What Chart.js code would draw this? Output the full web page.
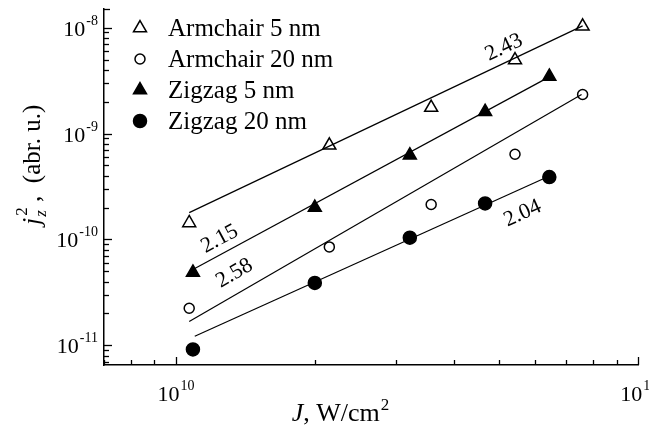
<!DOCTYPE html>
<html>
<head>
<meta charset="utf-8">
<script src="https://cdn.jsdelivr.net/npm/chart.js@4.4.1/dist/chart.umd.min.js"></script>
<style>
  html, body { margin: 0; padding: 0; background: #fff; }
  #wrap { width: 649px; height: 429px; }
</style>
</head>
<body>
<div id="wrap"><canvas id="myChart"></canvas></div>
<script>
// data (J in W/cm^2, j_z^2 in arbitrary units)
const seriesNames = ['Armchair 5 nm', 'Armchair 20 nm', 'Zigzag 5 nm', 'Zigzag 20 nm'];
const armchairJ = [1.07e10, 2.15e10, 3.57e10, 5.42e10, 7.59e10];
const zigzagJ = [1.09e10, 2.0e10, 3.21e10, 4.67e10, 6.43e10];
const armchair5 = [1.43e-10, 7.74e-10, 1.76e-9, 4.94e-9, 1.03e-8];
const armchair20 = [2.24e-11, 8.5e-11, 2.14e-10, 6.38e-10, 2.34e-9];
const zigzag5 = [4.88e-11, 2.0e-10, 6.25e-10, 1.61e-9, 3.46e-9];
const zigzag20 = [9.14e-12, 3.88e-11, 1.04e-10, 2.19e-10, 3.88e-10];

// fitted lines: start and end (J, j_z^2)
const fitJ = [[1.07e10, 7.59e10], [1.07e10, 7.55e10], [1.09e10, 6.43e10], [1.10e10, 6.4e10]];
const fitY = [[1.79e-10, 1.04e-8], [1.68e-11, 2.34e-9], [5.2e-11, 3.43e-9], [1.22e-11, 3.93e-10]];

// slope labels, the fit line each one follows, and where they sit (data coords)
const slopeLabels = ['2.43', '2.58', '2.15', '2.04'];
const slopeJ = [5.13e10, 1.34e10, 1.245e10, 5.63e10];
const slopeY = [6.5e-9, 4.78e-11, 1.01e-10, 1.76e-10];

const xTicks = [1e10, 1e11];
const xTickLabels = ['10^10', '10^11'];
const yTicks = [1e-8, 1e-9, 1e-10, 1e-11];
const yTickLabels = ['10^-8', '10^-9', '10^-10', '10^-11'];

const SERIF = '"Liberation Serif", "Times New Roman", serif';

const markers = [
  { style: 'triangle', radius: 7.5, fill: '#fff' },
  { style: 'circle', radius: 5, fill: '#fff' },
  { style: 'triangle', radius: 7.5, fill: '#000' },
  { style: 'circle', radius: 6.5, fill: '#000' }
];
const seriesJ = [armchairJ, armchairJ, zigzagJ, zigzagJ];
const seriesY = [armchair5, armchair20, zigzag5, zigzag20];

const datasets = [];
fitJ.forEach((js, i) => {
  datasets.push({
    label: 'fit ' + seriesNames[i],
    data: js.map((j, k) => ({ x: j, y: fitY[i][k] })),
    showLine: true,
    borderColor: '#000',
    borderWidth: 1.2,
    pointRadius: 0,
    fill: false
  });
});
seriesNames.forEach((name, i) => {
  datasets.push({
    label: name,
    data: seriesJ[i].map((j, k) => ({ x: j, y: seriesY[i][k] })),
    showLine: false,
    pointStyle: markers[i].style,
    pointRadius: markers[i].radius,
    pointBackgroundColor: markers[i].fill,
    pointBorderColor: '#000',
    pointBorderWidth: 1.5
  });
});

// "10^n" with a raised exponent
function drawPow(ctx, text, x, y, align) {
  const [base, exp] = text.split('^');
  ctx.font = '22px ' + SERIF;
  const wb = ctx.measureText(base).width;
  ctx.font = '14px ' + SERIF;
  const we = ctx.measureText(exp).width;
  let sx = x;
  if (align === 'center') sx = x - (wb + we) / 2;
  if (align === 'right') sx = x - (wb + we);
  ctx.textAlign = 'left';
  ctx.textBaseline = 'alphabetic';
  ctx.font = '22px ' + SERIF;
  ctx.fillText(base, sx, y + 8);
  ctx.font = '14px ' + SERIF;
  ctx.fillText(exp, sx + wb + 1, y - 3);
}

function drawMarker(ctx, m, x, y) {
  ctx.beginPath();
  if (m.style === 'circle') {
    ctx.arc(x, y, m.radius, 0, Math.PI * 2);
  } else {
    const r = m.radius;
    ctx.moveTo(x, y - r);
    ctx.lineTo(x + r * Math.sin(Math.PI * 2 / 3), y + r / 2);
    ctx.lineTo(x - r * Math.sin(Math.PI * 2 / 3), y + r / 2);
    ctx.closePath();
  }
  ctx.fillStyle = m.fill;
  ctx.fill();
  ctx.lineWidth = 1.5;
  ctx.strokeStyle = '#000';
  ctx.stroke();
}

const overlay = {
  id: 'overlay',
  afterDraw(chart) {
    const { ctx, chartArea: a } = chart;
    const x = chart.scales.x, y = chart.scales.y;
    ctx.save();
    ctx.strokeStyle = '#000';
    ctx.fillStyle = '#000';
    ctx.lineWidth = 1.3;

    // inward ticks, major at decades
    for (let e = 9; e <= 11; e++) {
      for (let m = 1; m <= 9; m++) {
        const v = m * Math.pow(10, e);
        if (v < x.min * 0.999 || v > x.max * 1.001) continue;
        const px = Math.round(x.getPixelForValue(v)) + 0.5;
        const len = m === 1 ? 8 : 5;
        ctx.beginPath(); ctx.moveTo(px, a.bottom); ctx.lineTo(px, a.bottom - len); ctx.stroke();
      }
    }
    for (let e = -12; e <= -8; e++) {
      for (let m = 1; m <= 9; m++) {
        const v = m * Math.pow(10, e);
        if (v < y.min || v > y.max) continue;
        const py = Math.round(y.getPixelForValue(v)) + 0.5;
        const len = m === 1 ? 8 : 5;
        ctx.beginPath(); ctx.moveTo(a.left, py); ctx.lineTo(a.left + len, py); ctx.stroke();
      }
    }
    // small cap at the top of the y axis
    ctx.beginPath(); ctx.moveTo(a.left, a.top + 0.5); ctx.lineTo(a.left + 6, a.top + 0.5); ctx.stroke();

    // tick labels
    xTicks.forEach((v, i) => drawPow(ctx, xTickLabels[i], x.getPixelForValue(v), a.bottom + 28, 'center'));
    yTicks.forEach((v, i) => drawPow(ctx, yTickLabels[i], a.left - 7, y.getPixelForValue(v), 'right'));

    // slope labels, turned along their fit lines
    slopeLabels.forEach((t, i) => {
      const x0 = x.getPixelForValue(fitJ[i][0]), x1 = x.getPixelForValue(fitJ[i][1]);
      const y0 = y.getPixelForValue(fitY[i][0]), y1 = y.getPixelForValue(fitY[i][1]);
      const ang = Math.atan2(y1 - y0, x1 - x0);
      ctx.save();
      ctx.translate(x.getPixelForValue(slopeJ[i]), y.getPixelForValue(slopeY[i]));
      ctx.rotate(ang);
      ctx.font = '22px ' + SERIF;
      ctx.textAlign = 'center';
      ctx.textBaseline = 'middle';
      ctx.fillText(t, 0, 0);
      ctx.restore();
    });

    // legend
    seriesNames.forEach((name, i) => {
      const ly = 28 + i * 31;
      drawMarker(ctx, markers[i], 140, ly);
      ctx.fillStyle = '#000';
      ctx.font = '25px ' + SERIF;
      ctx.textAlign = 'left';
      ctx.textBaseline = 'middle';
      ctx.fillText(name, 168, ly + 1);
    });

    // x title: J, W/cm^2
    ctx.textBaseline = 'alphabetic';
    ctx.textAlign = 'left';
    ctx.font = 'italic 26px ' + SERIF;
    const wJ = ctx.measureText('J').width;
    ctx.font = '26px ' + SERIF;
    const wRest = ctx.measureText(', W/cm').width;
    ctx.font = '17px ' + SERIF;
    const w2 = ctx.measureText('2').width;
    const sx = 340 - (wJ + wRest + w2) / 2;
    const by = 421;
    ctx.font = 'italic 26px ' + SERIF; ctx.fillText('J', sx, by);
    ctx.font = '26px ' + SERIF; ctx.fillText(', W/cm', sx + wJ, by);
    ctx.font = '17px ' + SERIF; ctx.fillText('2', sx + wJ + wRest + 1, by - 11);

    // y title: j_z^2 ,  (abr. u.)
    ctx.save();
    ctx.translate(40, 225);
    ctx.rotate(-Math.PI / 2);
    ctx.font = 'italic 26px ' + SERIF;
    const wj = ctx.measureText('j').width;
    ctx.font = 'italic 17px ' + SERIF;
    const wz = ctx.measureText('z').width;
    ctx.font = 'italic 26px ' + SERIF; ctx.fillText('j', 0, 0);
    ctx.font = 'italic 17px ' + SERIF; ctx.fillText('z', wj + 1, 6);
    ctx.font = '17px ' + SERIF; ctx.fillText('2', wj + 2, -13);
    ctx.font = '25px ' + SERIF; ctx.fillText(' ,  (abr. u.)', wj + wz + 3, 0);
    ctx.restore();

    ctx.restore();
  }
};

new Chart(document.getElementById('myChart'), {
  type: 'scatter',
  data: { datasets },
  options: {
    responsive: true,
    maintainAspectRatio: false,
    animation: false,
    layout: { padding: { left: 104, right: 11, top: 3, bottom: 64 } },
    scales: {
      x: {
        type: 'logarithmic',
        min: 7e9,
        max: 1e11,
        ticks: { display: false },
        grid: { display: false, drawTicks: false },
        border: { display: true, color: '#000', width: 1.5 }
      },
      y: {
        type: 'logarithmic',
        min: 6.52e-12,
        max: 1.5e-8,
        ticks: { display: false },
        grid: { display: false, drawTicks: false },
        border: { display: true, color: '#000', width: 1.5 }
      }
    },
    plugins: {
      legend: { display: false },
      tooltip: { enabled: false }
    }
  },
  plugins: [overlay]
});
</script>
</body>
</html>
